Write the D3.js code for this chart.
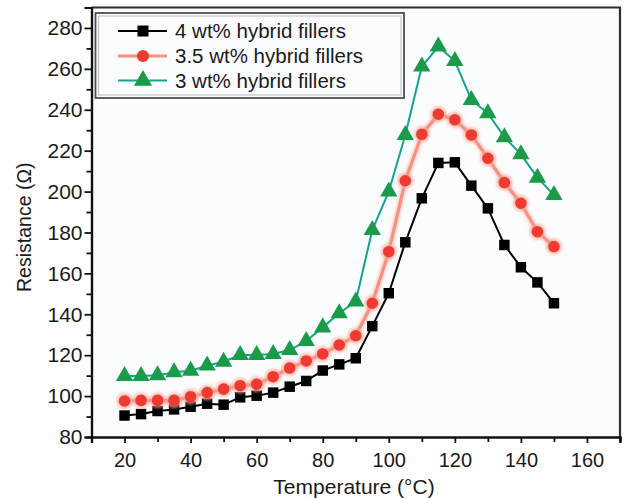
<!DOCTYPE html>
<html>
<head>
<meta charset="utf-8">
<script src="https://cdn.jsdelivr.net/npm/d3@7"></script>
<style>
  html, body { margin: 0; padding: 0; background: #ffffff; }
  svg { display: block; font-family: "Liberation Sans", Arial, Helvetica, sans-serif; }
</style>
</head>
<body>
<svg id="chart" width="628" height="499"></svg>
<script>
// Temperature (°C) sampling points
const temperatures = [20, 25, 30, 35, 40, 45, 50, 55, 60, 65, 70, 75, 80, 85, 90,
                      95, 100, 105, 110, 115, 120, 125, 130, 135, 140, 145, 150];

// Resistance (Ω) for each filler loading
const res4wt = [90.5, 91.2, 92.7, 93.5, 94.8, 96.3, 95.8, 99.4, 100.2, 101.7, 104.6, 107.4, 112.5, 115.5, 118.5,
                134.2, 150.3, 175.2, 196.7, 214.0, 214.3, 202.9, 191.8, 173.9, 163.0, 155.6, 145.4];
const res35wt = [97.6, 97.9, 97.9, 97.9, 99.7, 101.7, 103.4, 105.1, 105.8, 109.5, 113.7, 117.2, 120.6, 125.0, 129.5,
                 145.4, 170.6, 205.3, 228.0, 237.8, 235.1, 227.7, 216.3, 204.4, 194.3, 180.4, 173.1];
const res3wt = [109.8, 109.8, 110.2, 111.6, 112.4, 114.9, 116.8, 120.1, 120.1, 120.6, 122.5, 126.9, 133.6, 140.5, 146.3,
                181.2, 200.0, 227.7, 261.1, 270.9, 263.8, 244.8, 238.3, 226.6, 218.2, 206.8, 198.3];

const seriesNames = ["4 wt% hybrid fillers", "3.5 wt% hybrid fillers", "3 wt% hybrid fillers"];

// Axis ticks
const xMajorTicks = [20, 40, 60, 80, 100, 120, 140, 160];
const xMinorTicks = [10, 30, 50, 70, 90, 110, 130, 150, 170];
const yMajorTicks = [80, 100, 120, 140, 160, 180, 200, 220, 240, 260, 280];
const yMinorTicks = [90, 110, 130, 150, 170, 190, 210, 230, 250, 270, 290];

const svg = d3.select("#chart");

const x = d3.scaleLinear().domain([10, 170]).range([91.5, 620]);
const y = d3.scaleLinear().domain([80, 290]).range([437, 7.5]);

const defs = svg.append("defs");
const glow = defs.append("filter").attr("id", "soft").attr("x", "-50%").attr("y", "-50%")
  .attr("width", "200%").attr("height", "200%");
glow.append("feGaussianBlur").attr("stdDeviation", 1.6);

// Plot background
svg.append("rect")
  .attr("x", x(10)).attr("y", y(290))
  .attr("width", x(170) - x(10)).attr("height", y(80) - y(290))
  .attr("fill", "#fbfcfe");

// Frame: top and right edges
svg.append("path")
  .attr("d", `M${x(10)},${y(290)}H${x(170)}V${y(80)}`)
  .attr("fill", "none").attr("stroke", "#2b2f33").attr("stroke-width", 2.2);

// Axes
function styleAxis(g, fontSize) {
  g.select(".domain").attr("stroke", "#111").attr("stroke-width", 2.2);
  g.selectAll(".tick line").attr("stroke", "#111").attr("stroke-width", 1.8);
  g.selectAll(".tick text").attr("fill", "#1a1a1a").attr("font-size", fontSize)
    .attr("font-family", "Liberation Sans, Arial, sans-serif");
}

const xAxisMinor = svg.append("g").attr("transform", `translate(0,${y(80)})`)
  .call(d3.axisBottom(x).tickValues(xMinorTicks).tickSize(5).tickFormat(""));
styleAxis(xAxisMinor, 20);
const xAxis = svg.append("g").attr("transform", `translate(0,${y(80)})`)
  .call(d3.axisBottom(x).tickValues(xMajorTicks).tickSize(6).tickPadding(10).tickFormat(d3.format("d")));
styleAxis(xAxis, 20);

const yAxisMinor = svg.append("g").attr("transform", `translate(${x(10)},0)`)
  .call(d3.axisLeft(y).tickValues(yMinorTicks).tickSize(5).tickFormat(""));
styleAxis(yAxisMinor, 21);
const yAxis = svg.append("g").attr("transform", `translate(${x(10)},0)`)
  .call(d3.axisLeft(y).tickValues(yMajorTicks).tickSize(7).tickPadding(2).tickFormat(d3.format("d")));
styleAxis(yAxis, 21);

// Axis titles
svg.append("text")
  .attr("x", 354).attr("y", 494)
  .attr("text-anchor", "middle")
  .attr("font-size", 21).attr("fill", "#1a1a1a")
  .text("Temperature (°C)");

svg.append("text")
  .attr("transform", `translate(31,${(y(80) + y(290)) / 2 + 5}) rotate(-90)`)
  .attr("text-anchor", "middle")
  .attr("font-size", 19.5).attr("fill", "#1a1a1a")
  .text("Resistance (Ω)");

// Series
const series = [
  { name: seriesNames[0], values: res4wt, line: "#000000", lineWidth: 2, fill: "#000000", symbol: d3.symbolSquare, size: 110, halo: null },
  { name: seriesNames[1], values: res35wt, line: "#f6907c", lineWidth: 3, fill: "#ef3a31", symbol: d3.symbolCircle, size: 105, halo: "#f7a595" },
  { name: seriesNames[2], values: res3wt, line: "#13a48d", lineWidth: 2, fill: "#1b9b4a", symbol: d3.symbolTriangle, size: 130, halo: null }
];

const line = d3.line()
  .x((d, i) => x(temperatures[i]))
  .y(d => y(d));

series.forEach(s => {
  const g = svg.append("g");
  if (s.halo) {
    g.append("path").attr("d", line(s.values)).attr("fill", "none")
      .attr("stroke", s.halo).attr("stroke-width", s.lineWidth + 2.5).attr("opacity", 0.6)
      .attr("filter", "url(#soft)");
  }
  g.append("path")
    .attr("d", line(s.values))
    .attr("fill", "none")
    .attr("stroke", s.line)
    .attr("stroke-width", s.lineWidth)
    .attr("stroke-linejoin", "round");
  if (s.halo) {
    g.selectAll("path.halo")
      .data(s.values).enter().append("path")
      .attr("transform", (d, i) => `translate(${x(temperatures[i])},${y(d)})`)
      .attr("d", d3.symbol().type(s.symbol).size(s.size * 1.9)())
      .attr("fill", s.halo).attr("opacity", 0.7)
      .attr("filter", "url(#soft)");
  }
  g.selectAll("path.mark")
    .data(s.values).enter().append("path")
    .attr("class", "mark")
    .attr("transform", (d, i) => `translate(${x(temperatures[i])},${y(d)})`)
    .attr("d", d3.symbol().type(s.symbol).size(s.size)())
    .attr("fill", s.fill);
});

// Legend
const legend = svg.append("g");
legend.append("rect")
  .attr("x", 95.5).attr("y", 13).attr("width", 308.5).attr("height", 85)
  .attr("fill", "#fbfcfe").attr("stroke", "#4a4f55").attr("stroke-width", 1.8);
legend.append("rect")
  .attr("x", 98.5).attr("y", 16).attr("width", 302.5).attr("height", 79)
  .attr("fill", "none").attr("stroke", "#b9bcc0").attr("stroke-width", 1);

const rowY = [31, 56, 80.5];
series.forEach((s, i) => {
  const ry = rowY[i];
  if (s.halo) {
    legend.append("line").attr("x1", 118).attr("x2", 167).attr("y1", ry).attr("y2", ry)
      .attr("stroke", s.halo).attr("stroke-width", s.lineWidth + 2.5).attr("opacity", 0.6)
      .attr("filter", "url(#soft)");
  }
  legend.append("line")
    .attr("x1", 118).attr("x2", 167).attr("y1", ry).attr("y2", ry)
    .attr("stroke", s.line).attr("stroke-width", s.lineWidth);
  legend.append("path")
    .attr("transform", `translate(143,${ry})`)
    .attr("d", d3.symbol().type(s.symbol).size(s.size * 1.1)())
    .attr("fill", s.fill);
  legend.append("text")
    .attr("x", 175).attr("y", ry + 7)
    .attr("font-size", 20.5).attr("fill", "#1a1a1a")
    .text(s.name);
});
</script>
</body>
</html>
